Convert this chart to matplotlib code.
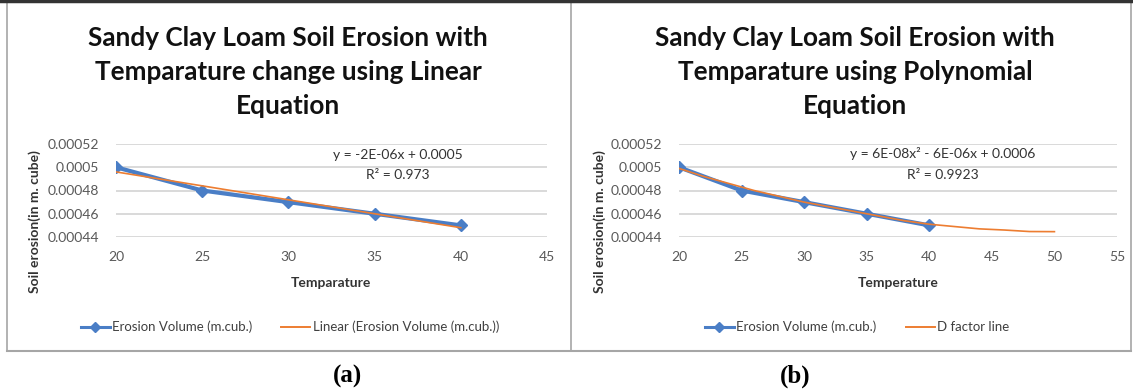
import numpy as np
import matplotlib
matplotlib.use("agg")
import matplotlib.pyplot as plt
from matplotlib.lines import Line2D

plt.rcParams['font.family'] = ['Lato', 'DejaVu Sans']

# data
temp = [20, 25, 30, 35, 40]
erosion = [0.00050, 0.00048, 0.00047, 0.00046, 0.00045]

# linear trendline endpoints (a)
linear_x = [20, 40]
linear_y = [0.000496, 0.000448]

# D factor line (b)
dfac_x = [20, 22, 24, 26, 28, 30, 32, 34, 36, 38, 40, 42, 44, 46, 48, 50]
dfac_y = [0.000499, 0.000492, 0.000486, 0.000480, 0.000475, 0.000470,
          0.000466, 0.000462, 0.000458, 0.000454, 0.000451, 0.000449,
          0.000447, 0.000446, 0.0004447, 0.0004446]

yticks = [0.00044, 0.00046, 0.00048, 0.0005, 0.00052]
ytick_labels = ['0.00044', '0.00046', '0.00048', '0.0005', '0.00052']

BLUE = '#4A7EC6'
ORANGE = '#ED7D31'
GRID = '#D9D9D9'
TXT = '#595959'

W, H = 1133, 391
fig = plt.figure(figsize=(W / 100, H / 100), dpi=100)


def fx(px):
    return px / W


def fy(py):
    return 1 - py / H


def setup(ax, xmax, xstep):
    ax.set_xlim(20, xmax)
    ax.set_ylim(0.00044, 0.00052)
    ax.set_xticks(np.arange(20, xmax + 1, xstep))
    ax.set_yticks(yticks)
    ax.set_yticklabels(ytick_labels)
    for s in ax.spines.values():
        s.set_visible(False)
    ax.tick_params(length=0, colors=TXT, labelsize=10)
    ax.tick_params(axis='y', pad=12)
    ax.tick_params(axis='x', pad=10)
    ax.grid(axis='y', color=GRID, linewidth=1.4)
    ax.set_axisbelow(True)
    ax.set_facecolor('none')


def legend_handles(second_label):
    blue = Line2D([], [], color=BLUE, lw=2.2, marker='D', ms=5)
    orange = Line2D([], [], color=ORANGE, lw=1.4)
    return [blue, orange], ['Erosion Volume (m.cub.)', second_label]


# panel (a)
ax1 = fig.add_axes([fx(116), fy(237), fx(547 - 116), fy(144) - fy(237)])
setup(ax1, 45, 5)
ax1.plot(temp, erosion, color=BLUE, lw=3, marker='D', ms=6, zorder=2)
ax1.plot(linear_x, linear_y, color=ORANGE, lw=1.2, zorder=3)
fig.text(fx(398), fy(155), 'y = -2E-06x + 0.0005', ha='center', va='center',
         fontsize=10, color='#333333')
fig.text(fx(398), fy(175), 'R² = 0.973', ha='center', va='center',
         fontsize=10, color='#333333')
fig.text(fx(331), fy(283), 'Temparature', ha='center', va='center',
         fontsize=10, fontweight='bold', color='#333333')
fig.text(fx(35), fy(222), 'Soil erosion(in m. cube)', ha='center', va='center',
         rotation=90, fontsize=10, fontweight='bold', color='#333333')
fig.text(fx(288), fy(72), 'Sandy Clay Loam Soil Erosion with\nTemparature change using Linear\nEquation',
         ha='center', va='center', fontsize=18.8, fontweight='bold',
         color='#111111', linespacing=1.5)
h1, l1 = legend_handles('Linear (Erosion Volume (m.cub.))')
fig.legend(handles=h1, labels=l1,
           loc='center', bbox_to_anchor=(fx(290), fy(327)), ncol=2,
           frameon=False, fontsize=9.5, handlelength=2.2, handletextpad=0.2,
           columnspacing=2.2, labelcolor='#404040')

# panel (b)
ax2 = fig.add_axes([fx(679), fy(237), fx(1117 - 679), fy(144) - fy(237)])
setup(ax2, 55, 5)
ax2.plot(temp, erosion, color=BLUE, lw=3, marker='D', ms=6, zorder=2)
ax2.plot(dfac_x, dfac_y, color=ORANGE, lw=1.2, zorder=3)
fig.text(fx(943), fy(154), 'y = 6E-08x² - 6E-06x + 0.0006', ha='center',
         va='center', fontsize=10, color='#333333')
fig.text(fx(943), fy(175), 'R² = 0.9923', ha='center', va='center',
         fontsize=10, color='#333333')
fig.text(fx(898), fy(283), 'Temperature', ha='center', va='center',
         fontsize=10, fontweight='bold', color='#333333')
fig.text(fx(600), fy(222), 'Soil erosion(in m. cube)', ha='center', va='center',
         rotation=90, fontsize=10, fontweight='bold', color='#333333')
fig.text(fx(855), fy(72), 'Sandy Clay Loam Soil Erosion with\nTemparature using Polynomial\nEquation',
         ha='center', va='center', fontsize=18.8, fontweight='bold',
         color='#111111', linespacing=1.5)
h2, l2 = legend_handles('D factor line')
fig.legend(handles=h2, labels=l2,
           loc='center', bbox_to_anchor=(fx(857), fy(327)), ncol=2,
           frameon=False, fontsize=9.5, handlelength=2.2, handletextpad=0.2,
           columnspacing=2.2, labelcolor='#404040')

# panel frames
frame = '#A6A6A6'
for xs, ys, c, w in [([7, 7], [2, 351], frame, 1.2),
                     ([571, 571], [2, 351], frame, 1.2),
                     ([1131, 1131], [2, 351], frame, 1.2),
                     ([7, 1131], [351, 351], frame, 1.5),
                     ([0, W], [1, 1], '#333333', 2.5)]:
    fig.add_artist(Line2D([fx(v) for v in xs], [fy(v) for v in ys],
                          color=c, lw=w))

fig.text(fx(348), fy(376), '(a)', ha='center', va='center', fontsize=18,
         fontweight='bold', family='Liberation Serif')
fig.text(fx(795), fy(376), '(b)', ha='center', va='center', fontsize=18,
         fontweight='bold', family='Liberation Serif')

fig.savefig('out.png', dpi=100)
